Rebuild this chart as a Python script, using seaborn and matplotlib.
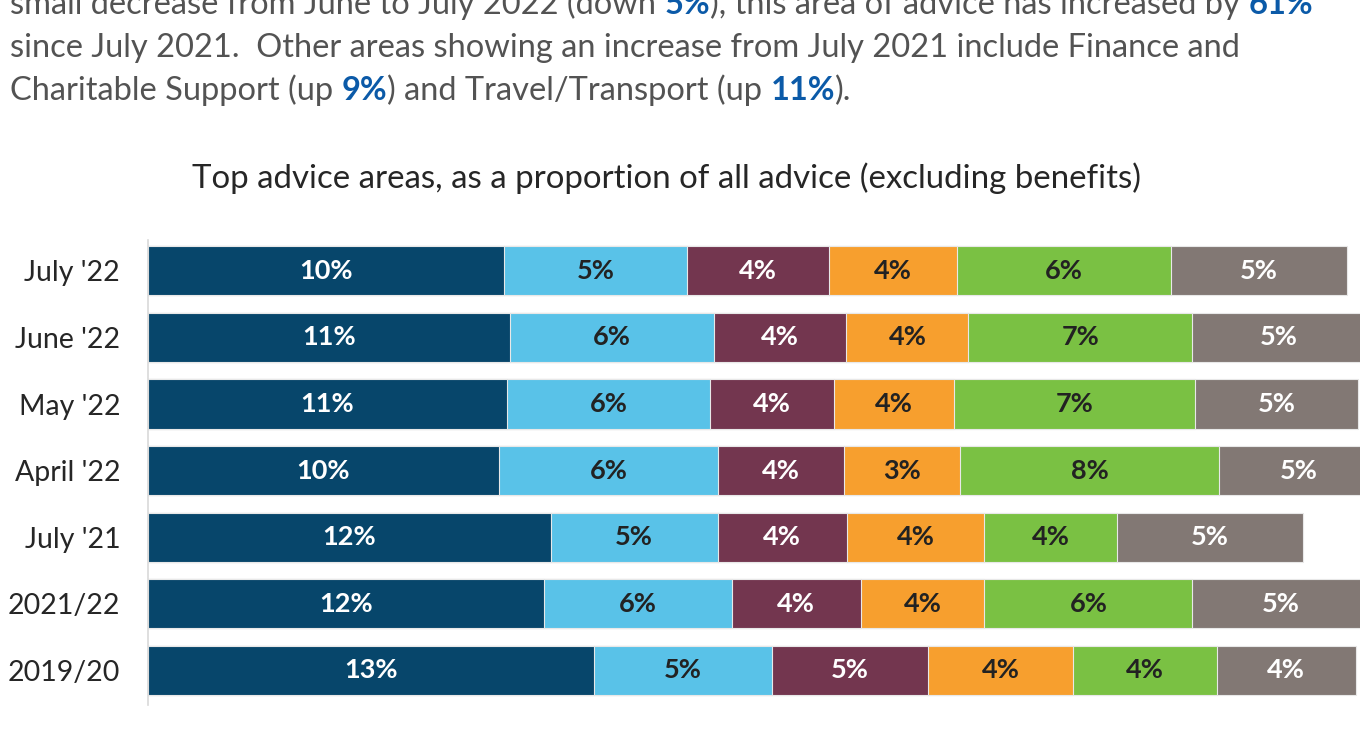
import matplotlib
matplotlib.use("Agg")
import matplotlib.pyplot as plt
import numpy as np
import seaborn as sns

# --- data (% of all advice excl. benefits) ---
periods = ["July '22", "June '22", "May '22", "April '22", "July '21", "2021/22", "2019/20"]
area_1 = [10.47, 10.65, 10.55, 10.32, 11.85, 11.64, 13.11]
area_2 = [5.38, 5.99, 5.98, 6.44, 4.90, 5.53, 5.25]
area_3 = [4.19, 3.90, 3.65, 3.71, 3.81, 3.79, 4.57]
area_4 = [3.75, 3.59, 3.52, 3.42, 4.03, 3.64, 4.29]
area_5 = [6.29, 6.58, 7.09, 7.62, 3.91, 6.12, 4.21]
area_6 = [5.19, 5.07, 4.80, 4.67, 5.46, 5.19, 4.09]

title = "Top advice areas, as a proportion of all advice (excluding benefits)"
body_lines = [
    [("small decrease from June to July 2022 (down ", False), ("5%", True),
     ("), this area of advice has increased by ", False), ("61%", True)],
    [("since July 2021.  Other areas showing an increase from July 2021 include Finance and", False)],
    [("Charitable Support (up ", False), ("9%", True), (") and Travel/Transport (up ", False),
     ("11%", True), (").", False)],
]

colors = ["#07466b", "#59c2e8", "#73364f", "#f79f2e", "#7ac143", "#827874"]
label_colors = ["white", "#222222", "white", "#222222", "#222222", "white"]
body_grey = "#535353"
body_blue = "#0b5aa8"

sns.set_theme(style="white")
plt.rcParams["font.family"] = ["Lato", "DejaVu Sans"]

fig = plt.figure(figsize=(13.6, 7.45), dpi=100)
ax = fig.add_axes([148 / 1360, 1 - 705 / 745, 1 - 148 / 1360, (705 - 240) / 745])

series = np.array([area_1, area_2, area_3, area_4, area_5, area_6])
cum = np.cumsum(series, axis=0)

# stacked bars: draw cumulative totals from the outermost segment inwards
for i in range(len(series) - 1, -1, -1):
    sns.barplot(x=cum[i], y=periods, orient="y", color=colors[i], width=0.737,
                saturation=1, edgecolor="#e8e8e8", linewidth=0.8, ax=ax)

for i in range(len(series)):
    for j in range(len(periods)):
        left = cum[i][j] - series[i][j]
        ax.text(left + series[i][j] / 2, j, f"{round(series[i][j]):.0f}%",
                ha="center", va="center", fontsize=19.5, fontweight="bold",
                color=label_colors[i])

ax.set_xlim(0, (1360 - 148) / 34.0)
ax.set_ylim(6.526, -0.466)
ax.set_xlabel("")
ax.set_ylabel("")
ax.set_xticks([])
for side in ["top", "right", "bottom"]:
    ax.spines[side].set_visible(False)
ax.spines["left"].set_color("#d9d9d9")
ax.spines["left"].set_linewidth(1.2)
ax.tick_params(axis="y", length=0, pad=20, labelsize=20.5, labelcolor="#262626")

fig.text(667 / 1360, 1 - 188 / 745, title, ha="center", va="baseline",
         fontsize=23.8, color="#262626")

# body paragraph with bold blue numbers, pieces placed one after another
renderer = fig.canvas.get_renderer()
baselines = [14, 57, 100]
for line, base in zip(body_lines, baselines):
    x = 10 / 1360
    for piece, strong in line:
        t = fig.text(x, 1 - base / 745, piece, ha="left", va="baseline", fontsize=23.5,
                     color=body_blue if strong else body_grey,
                     fontweight="bold" if strong else "normal")
        ext = t.get_window_extent(renderer)
        x = fig.transFigure.inverted().transform((ext.x1, ext.y0))[0]

fig.savefig("out.png", dpi=100)
